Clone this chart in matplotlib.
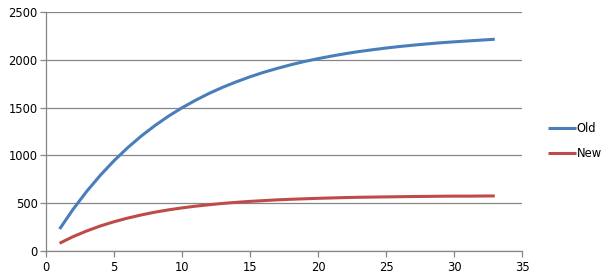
import matplotlib.pyplot as plt

x = list(range(1, 34))
old = [230, 438, 625, 793, 944, 1080, 1202, 1311, 1410, 1498,
       1577, 1649, 1713, 1770, 1822, 1869, 1910, 1948, 1982, 2012,
       2039, 2064, 2086, 2105, 2123, 2139, 2153, 2166, 2178, 2188,
       2197, 2206, 2215]
new = [81, 151, 210, 262, 306, 344, 377, 406, 430, 451,
       469, 484, 498, 509, 519, 527, 535, 541, 546, 551,
       555, 559, 562, 564, 566, 568, 570, 571, 573, 574,
       574, 575, 576]

grid_color = '#868686'

fig = plt.figure(figsize=(6.03, 2.8), dpi=100)
ax = fig.add_axes([46 / 603, 1 - 251 / 280, 476 / 603, 239 / 280])

ax.plot(x, old, color='#4A7EBB', lw=2.2, label='Old', solid_capstyle='butt')
ax.plot(x, new, color='#BE4B48', lw=2.2, label='New', solid_capstyle='butt')

ax.set_xlim(0, 35)
ax.set_ylim(0, 2500)
ax.set_xticks(range(0, 36, 5))
ax.set_yticks(range(0, 2501, 500))
ax.yaxis.grid(True, color=grid_color, lw=0.9)
ax.set_axisbelow(True)

for s in ['top', 'right']:
    ax.spines[s].set_visible(False)
for s in ['left', 'bottom']:
    ax.spines[s].set_color(grid_color)
    ax.spines[s].set_linewidth(0.9)

ax.tick_params(axis='both', colors=grid_color, length=4, width=0.9,
               labelsize=8.3, labelcolor='black')
ax.tick_params(axis='y', pad=2)
ax.tick_params(axis='x', pad=3)

fig.legend(loc='center left', bbox_to_anchor=(548 / 603, 1 - 141 / 280),
           frameon=False, fontsize=8.3, handlelength=2.4, handletextpad=0.1,
           labelspacing=1.0, borderaxespad=0, borderpad=0)

fig.savefig('out.png', dpi=100)
